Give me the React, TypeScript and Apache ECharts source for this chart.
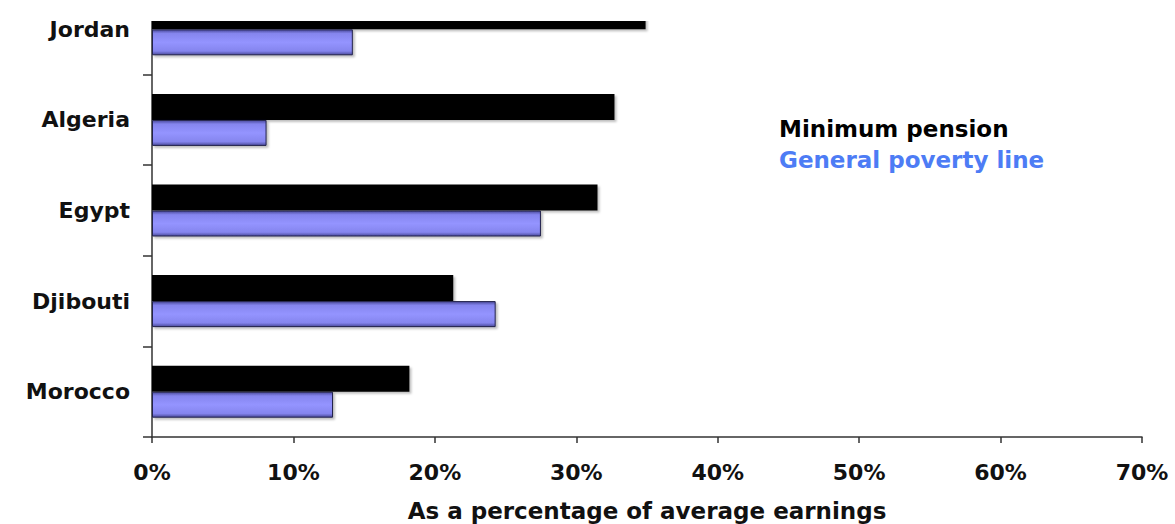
import React, { useEffect, useRef } from "react";
import * as echarts from "echarts";

const countries = ["Morocco", "Djibouti", "Egypt", "Algeria", "Jordan"];
const minimumPension = [18.2, 21.3, 31.5, 32.7, 34.9];
const povertyLine = [12.8, 24.3, 27.5, 8.1, 14.2];
const xTicks = [0, 10, 20, 30, 40, 50, 60, 70];

const FONT = "DejaVu Sans";

export default function App() {
  const ref = useRef<HTMLDivElement>(null);
  useEffect(() => {
    const chart = echarts.init(ref.current!, null, { renderer: "svg" });
    const blueGrad = new echarts.graphic.LinearGradient(0, 0, 0, 1, [
      { offset: 0, color: "#4a4a9c" },
      { offset: 0.15, color: "#8585ee" },
      { offset: 0.5, color: "#9494ff" },
      { offset: 0.85, color: "#8585ee" },
      { offset: 1, color: "#4a4a9c" },
    ]);
    chart.setOption({
      animation: false,
      backgroundColor: "#fff",
      grid: {
        left: 152,
        right: 33,
        top: -16,
        bottom: 87,
        containLabel: false,
        outerBoundsMode: "none",
      },
      legend: {
        orient: "vertical",
        left: 768,
        top: 112,
        itemWidth: 0,
        itemHeight: 0,
        itemGap: 8,
        selectedMode: false,
        data: [
          { name: "Minimum pension", textStyle: { color: "#000" } },
          { name: "General poverty line", textStyle: { color: "#4d7cf5" } },
        ],
        textStyle: { fontFamily: FONT, fontWeight: "bold", fontSize: 23 },
      },
      xAxis: {
        type: "value",
        min: xTicks[0],
        max: xTicks[xTicks.length - 1],
        interval: 10,
        splitLine: { show: false },
        axisLine: { show: true, lineStyle: { color: "#333", width: 1.5 } },
        axisTick: { show: true, length: 6, lineStyle: { color: "#333", width: 1.5 } },
        axisLabel: {
          formatter: (v: number) => v + "%",
          fontFamily: FONT,
          fontWeight: "bold",
          fontSize: 22,
          color: "#111",
          margin: 24,
        },
        name: "As a percentage of average earnings",
        nameLocation: "middle",
        nameGap: 62,
        nameTextStyle: { fontFamily: FONT, fontWeight: "bold", fontSize: 23, color: "#111" },
      },
      yAxis: {
        type: "category",
        data: countries,
        axisLine: { show: true, lineStyle: { color: "#333", width: 1.5 } },
        axisTick: { show: true, length: 9, lineStyle: { color: "#333", width: 1.5 } },
        axisLabel: {
          fontFamily: FONT,
          fontWeight: "bold",
          fontSize: 22,
          color: "#111",
          margin: 22,
        },
      },
      series: [
        {
          name: "Minimum pension",
          type: "bar",
          data: minimumPension,
          barWidth: 26,
          barGap: "0%",
          itemStyle: {
            color: "#000",
            shadowColor: "rgba(0,0,0,0.25)",
            shadowOffsetX: 2,
            shadowOffsetY: 2,
            shadowBlur: 2,
          },
        },
        {
          name: "General poverty line",
          type: "bar",
          data: povertyLine,
          barWidth: 26,
          barGap: "0%",
          itemStyle: {
            color: blueGrad,
            borderColor: "#22224a",
            borderWidth: 1,
            shadowColor: "rgba(0,0,0,0.25)",
            shadowOffsetX: 2,
            shadowOffsetY: 2,
            shadowBlur: 2,
          },
        },
      ],
      graphic: [
        {
          type: "rect",
          z: 100,
          shape: { x: 140, y: 0, width: 1035, height: 21 },
          style: { fill: "#fff" },
        },
      ],
    });
    return () => chart.dispose();
  }, []);
  return (
    <div
      ref={ref}
      style={{ position: "absolute", left: 0, top: 0, width: 1175, height: 524 }}
    />
  );
}
